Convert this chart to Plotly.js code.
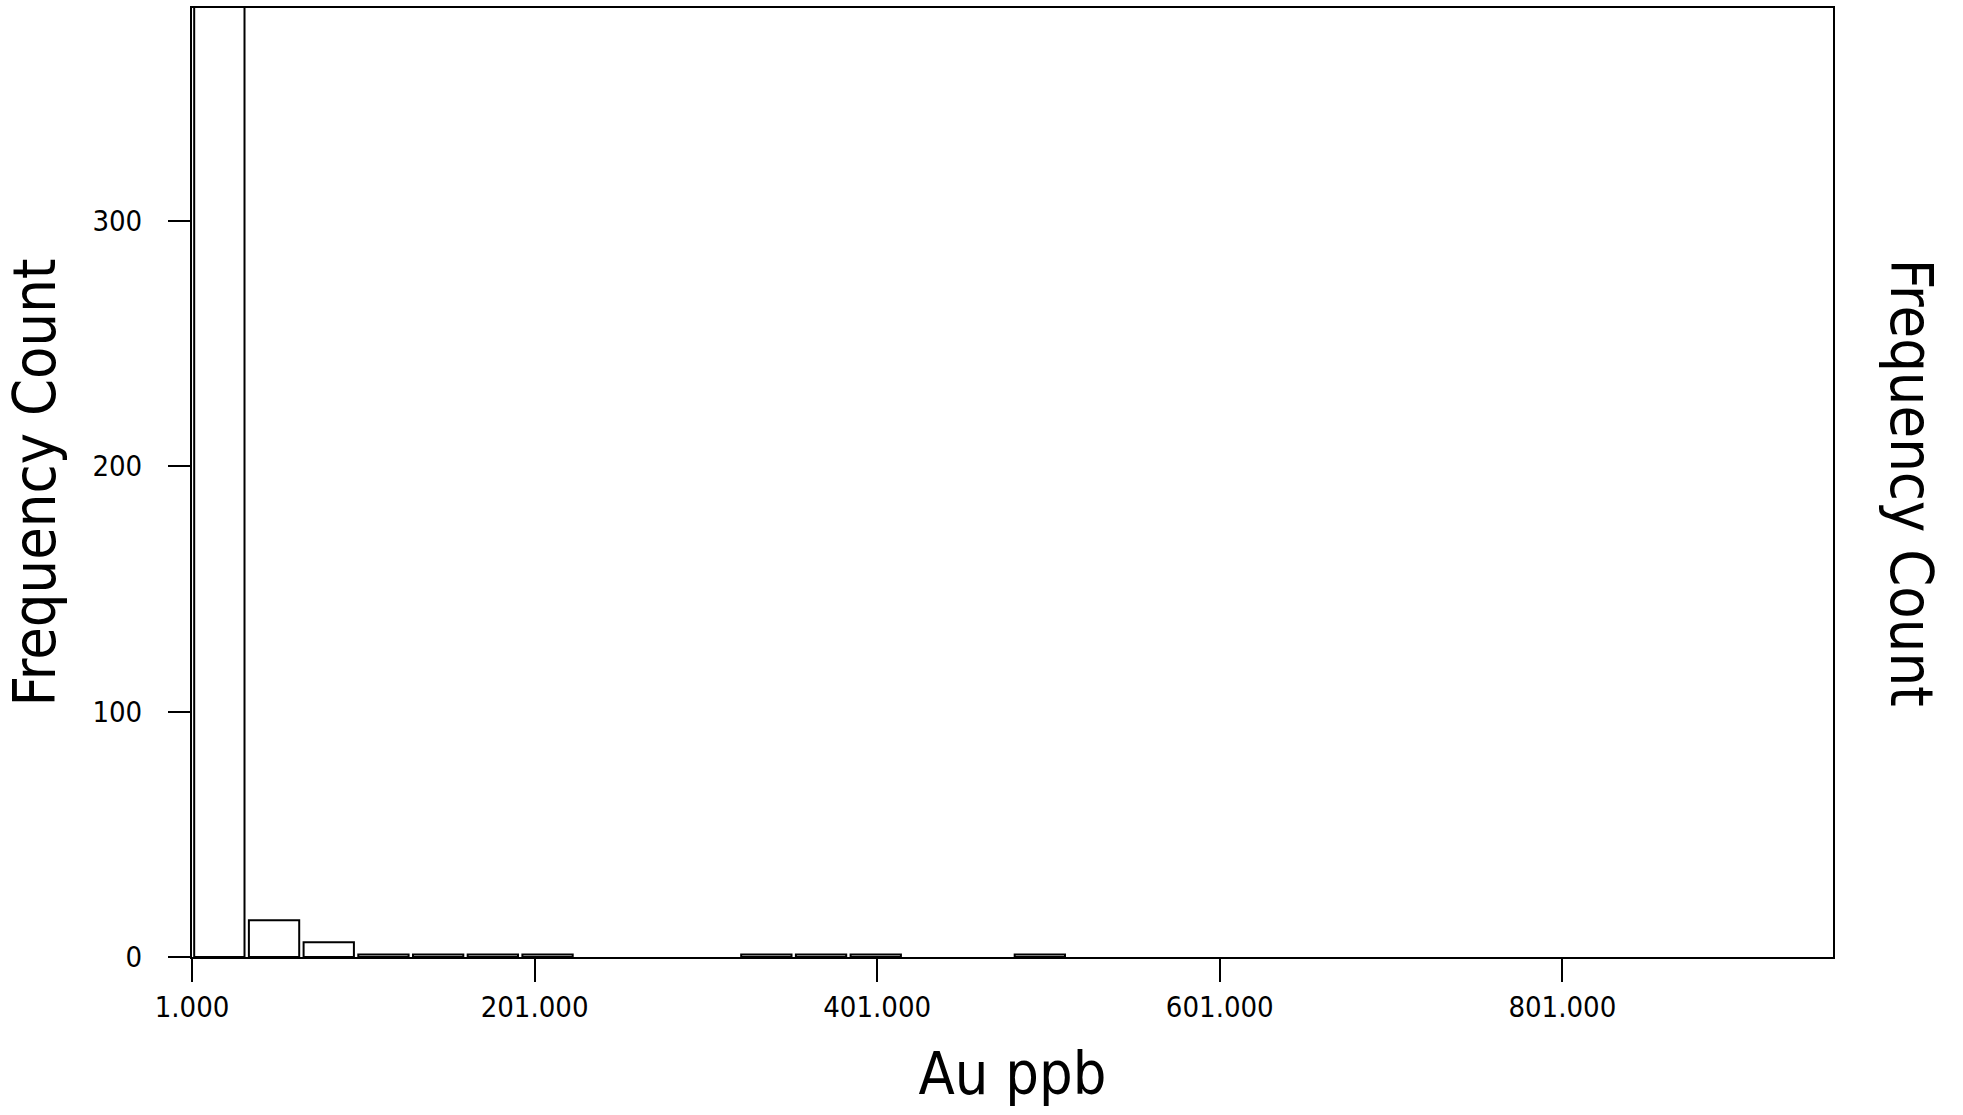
<!DOCTYPE html>
<html>
<head>
<meta charset="utf-8">
<script src="https://cdn.plot.ly/plotly-3.0.1.min.js"></script>
<style>
  html, body { margin: 0; padding: 0; background: #ffffff; }
  #chart { width: 1963px; height: 1115px; }
</style>
</head>
<body>
<div id="chart"></div>
<script>
// Histogram of gold assays (ppb): 30 equal-width classes from the minimum to the maximum value.
const auMin = 1;            // lower edge of the first class
const auMax = 959;          // upper edge of the last class
const classCount = 30;
// Frequency of samples in each class (the first class runs off the top of the plot)
const frequency = [
  440, 15, 6, 1, 1, 1, 1, 0, 0, 0,
  1, 1, 1, 0, 0, 1, 0, 0, 0, 0,
  0, 0, 0, 0, 0, 0, 0, 0, 0, 0
];
const xTickValues = [1, 201, 401, 601, 801];
const yTickValues = [0, 100, 200, 300];
const xLabel = 'Au ppb';
const yLabel = 'Frequency Count';

const classWidth = (auMax - auMin) / classCount;
const plotFont = 'Liberation Sans Narrow, DejaVu Sans Condensed, Arial Narrow, sans-serif';

const trace = {
  type: 'bar',
  x0: auMin + classWidth / 2,
  dx: classWidth,
  y: frequency,
  marker: {
    color: '#ffffff',
    // empty classes get no outline, so only the axis line shows there
    line: { color: '#000000', width: frequency.map(f => (f > 0 ? 2 : 0)) }
  },
  hoverinfo: 'x+y'
};

const layout = {
  width: 1963,
  height: 1115,
  margin: { l: 192, r: 130, t: 8, b: 158 },
  paper_bgcolor: '#ffffff',
  plot_bgcolor: '#ffffff',
  bargap: 0.08,
  showlegend: false,
  font: { family: plotFont, color: '#000000' },
  xaxis: {
    range: [auMin, auMax],
    tickvals: xTickValues,
    tickformat: '.3f',
    ticks: 'outside',
    ticklen: 23,
    tickwidth: 2,
    tickcolor: '#000000',
    tickfont: { size: 29, family: plotFont },
    showline: true,
    mirror: true,
    linewidth: 2,
    linecolor: '#000000',
    showgrid: false,
    zeroline: false,
    title: { text: xLabel, font: { size: 59, family: plotFont }, standoff: 30 }
  },
  yaxis: {
    range: [0, 386.6],
    tickvals: yTickValues,
    ticks: 'outside',
    ticklen: 22,
    tickwidth: 2,
    tickcolor: '#000000',
    tickfont: { size: 29, family: plotFont },
    ticklabelstandoff: 20,
    showline: true,
    mirror: true,
    linewidth: 2,
    linecolor: '#000000',
    showgrid: false,
    zeroline: false,
    title: { text: yLabel, font: { size: 59, family: plotFont }, standoff: 18 }
  },
  annotations: [{
    text: yLabel,
    xref: 'paper', yref: 'paper',
    x: 1.048, y: 0.5,
    xanchor: 'center', yanchor: 'middle',
    textangle: 90,
    showarrow: false,
    font: { size: 59, family: plotFont, color: '#000000' }
  }]
};

Plotly.newPlot('chart', [trace], layout, { staticPlot: true, displayModeBar: false });
</script>
</body>
</html>
